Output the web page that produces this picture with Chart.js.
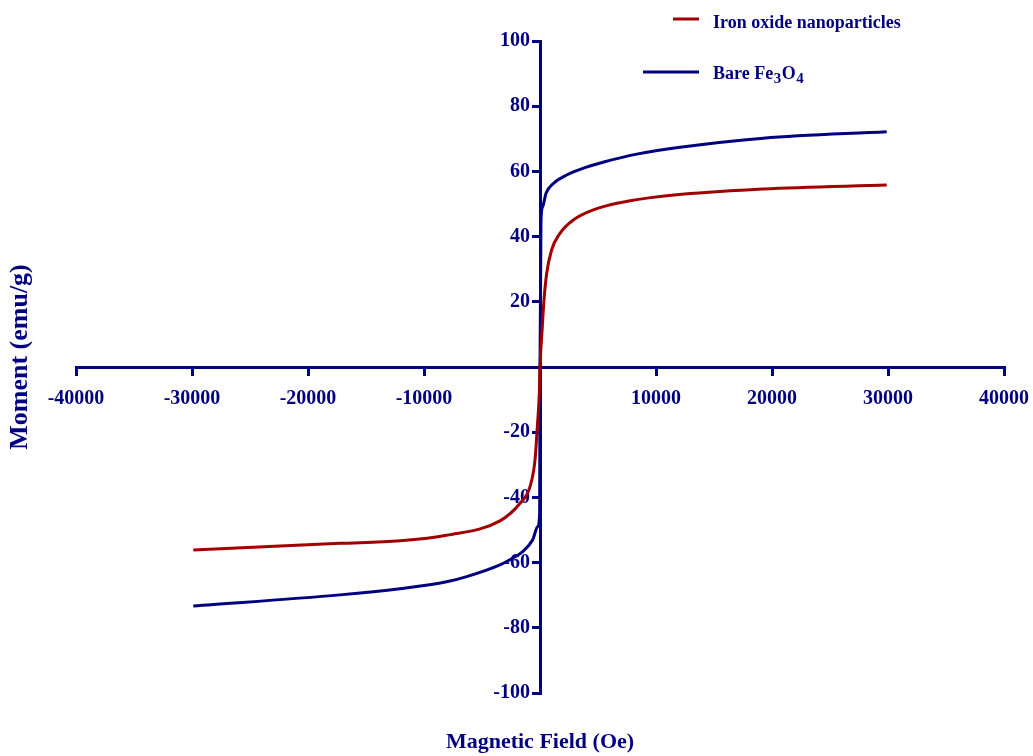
<!DOCTYPE html>
<html>
<head>
<meta charset="utf-8">
<script src="https://cdn.jsdelivr.net/npm/chart.js@4.4.0/dist/chart.umd.min.js"></script>
<style>
  html, body { margin: 0; padding: 0; background: #ffffff; }
  #wrap { width: 1033px; height: 756px; position: relative; }
</style>
</head>
<body>
<div id="wrap"><canvas id="hysteresisChart"></canvas></div>
<script>
// Magnetization curves (field in Oe, moment in emu/g)
const fieldIron = [-29890, -17240, -12070, -8050, -3450, -1720, -860, -430, -230, -60, 0,
                   200, 345, 575, 1000, 1720, 2870, 4600, 6900, 10340, 19250, 29890];
const momentIron = [-56.1, -54.1, -53.3, -51.6, -47.2, -41.8, -36.7, -28.5, -18.3, -8.1, 0,
                    12.4, 20.6, 28.7, 35.9, 41.0, 45.1, 48.2, 50.4, 52.3, 54.6, 55.8];

const fieldBare = [-29890, -17240, -12070, -8050, -6320, -3450, -2640, -1490, -630, -200, -30, 0,
                   86, 230, 520, 1150, 2300, 4000, 5500, 8340, 12070, 19250, 29890];
const momentBare = [-73.3, -69.9, -68.0, -65.9, -64.3, -60.7, -59.2, -56.6, -53.0, -49.0, -44.9, 0,
                    45.1, 49.2, 53.3, 56.3, 58.9, 61.3, 62.9, 65.3, 67.4, 70.2, 72.2];

const seriesLabels = ["Iron oxide nanoparticles", "Bare Fe3O4"];
const xTicks = [-40000, -30000, -20000, -10000, 0, 10000, 20000, 30000, 40000];
const yTicks = [-100, -80, -60, -40, -20, 0, 20, 40, 60, 80, 100];
const xTitle = "Magnetic Field (Oe)";
const yTitle = "Moment (emu/g)";

const navy = "#000080";
const darkRed = "#a00000";
const serif = "'Liberation Serif', 'Times New Roman', serif";

function toPoints(xs, ys) {
    return xs.map(function(x, i) { return { x: x, y: ys[i] }; });
}

// Axis titles and the corner legend (line lengths differ, Fe3O4 needs subscripts)
const chartTexts = {
    id: "chartTexts",
    afterDraw: function(chart) {
        const ctx = chart.ctx;
        const ds = chart.data.datasets;
        ctx.save();
        ctx.fillStyle = navy;

        // axis titles
        ctx.textAlign = "center";
        ctx.textBaseline = "middle";
        ctx.font = "bold 22px " + serif;
        ctx.fillText(xTitle, 540, 742);

        ctx.save();
        ctx.translate(20, 357);
        ctx.rotate(-Math.PI / 2);
        ctx.font = "bold 26px " + serif;
        ctx.fillText(yTitle, 0, 0);
        ctx.restore();

        // legend lines
        ctx.lineWidth = 3;
        ctx.strokeStyle = ds[0].borderColor;
        ctx.beginPath();
        ctx.moveTo(673, 19);
        ctx.lineTo(699, 19);
        ctx.stroke();

        ctx.strokeStyle = ds[1].borderColor;
        ctx.beginPath();
        ctx.moveTo(643, 72);
        ctx.lineTo(699, 72);
        ctx.stroke();

        // legend labels
        ctx.textAlign = "left";
        ctx.textBaseline = "alphabetic";
        ctx.font = "bold 18px " + serif;
        ctx.fillText(ds[0].label, 713, 28);

        let x = 713;
        const base = 79;
        const parts = [["Bare Fe", false], ["3", true], ["O", false], ["4", true]];
        parts.forEach(function(p) {
            ctx.font = p[1] ? "bold 15px " + serif : "bold 18px " + serif;
            ctx.fillText(p[0], x, p[1] ? base + 4 : base);
            x += ctx.measureText(p[0]).width + 0.5;
        });
        ctx.restore();
    }
};

const ctx = document.getElementById("hysteresisChart").getContext("2d");

new Chart(ctx, {
    type: "line",
    data: {
        datasets: [{
            label: seriesLabels[0],
            data: toPoints(fieldIron, momentIron),
            borderColor: darkRed,
            borderWidth: 3,
            pointRadius: 0,
            cubicInterpolationMode: "monotone",
            fill: false
        }, {
            label: seriesLabels[1],
            data: toPoints(fieldBare, momentBare),
            borderColor: navy,
            borderWidth: 3,
            pointRadius: 0,
            cubicInterpolationMode: "monotone",
            fill: false
        }]
    },
    options: {
        responsive: true,
        maintainAspectRatio: false,
        animation: false,
        layout: {
            padding: { left: 76, right: 29, top: 41, bottom: 63 }
        },
        scales: {
            x: {
                type: "linear",
                position: { y: 0 },
                min: -40000,
                max: 40000,
                // the axis sits inside the plot, so it should reserve no room
                afterFit: function(scale) {
                    scale.height = 0;
                    scale.paddingLeft = 0;
                    scale.paddingRight = 0;
                },
                afterBuildTicks: function(scale) {
                    scale.ticks = xTicks.map(function(v) { return { value: v }; });
                },
                border: { color: navy, width: 3 },
                grid: {
                    drawOnChartArea: false,
                    drawTicks: true,
                    tickLength: 7,
                    color: navy,
                    lineWidth: 3
                },
                ticks: {
                    color: navy,
                    padding: 13,
                    maxRotation: 0,
                    autoSkip: false,
                    font: { family: serif, size: 20, weight: "bold" },
                    callback: function(value) { return value === 0 ? "" : String(value); }
                }
            },
            y: {
                type: "linear",
                position: { x: 0 },
                min: -100,
                max: 100,
                afterFit: function(scale) {
                    scale.width = 0;
                    scale.paddingTop = 0;
                    scale.paddingBottom = 0;
                },
                afterBuildTicks: function(scale) {
                    scale.ticks = yTicks.map(function(v) { return { value: v }; });
                },
                border: { color: navy, width: 3 },
                grid: {
                    drawOnChartArea: false,
                    drawTicks: true,
                    tickLength: 7,
                    color: navy,
                    lineWidth: 3
                },
                ticks: {
                    color: navy,
                    autoSkip: false,
                    font: { family: serif, size: 20, weight: "bold" },
                    // labels of a centred y axis sit on the axis line, so pad with an en space
                    callback: function(value) { return value === 0 ? "" : value + "\u2002"; }
                }
            }
        },
        plugins: {
            legend: { display: false },
            tooltip: { enabled: false }
        }
    },
    plugins: [chartTexts]
});
</script>
</body>
</html>
